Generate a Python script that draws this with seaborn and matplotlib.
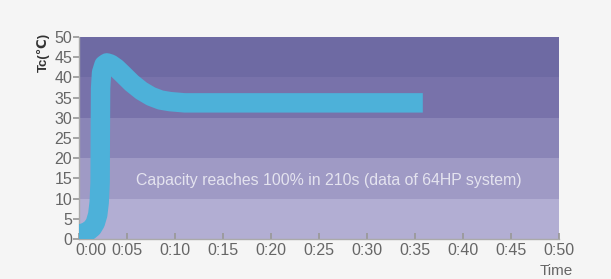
import matplotlib
matplotlib.use("Agg")
import matplotlib.pyplot as plt
import matplotlib.transforms as mtrans
import seaborn as sns
import pandas as pd

# ---- data ----
time_s = [0, 0.5, 1.0, 1.4, 1.7, 1.95, 2.1, 2.2, 2.22, 2.25, 2.35, 2.6, 2.9, 3.3, 3.9,
          4.6, 5.5, 6.5, 7.5, 8.5, 9.5, 11, 34.8]
tc_values = [1.2, 1.5, 2.0, 2.8, 4.0, 6.0, 9.0, 14.0, 25.0, 37.3, 41.2, 43.1, 43.6, 43.3, 42.3,
             40.7, 38.6, 36.7, 35.3, 34.4, 34.0, 33.7, 33.7]
x_ticks = [0, 5, 10, 15, 20, 25, 30, 35, 40, 45, 50]
x_tick_labels = ["0:00", "0:05", "0:10", "0:15", "0:20", "0:25", "0:30", "0:35", "0:40", "0:45", "0:50"]
y_ticks = [0, 5, 10, 15, 20, 25, 30, 35, 40, 45, 50]
band_edges = [0, 10, 20, 30, 40, 50]
band_colors = ["#b2aed3", "#9f9ac5", "#8a85b7", "#7872aa", "#6e6aa3"]
note = "Capacity reaches 100% in 210s (data of 64HP system)"

sns.set_theme(style="white")
plt.rcParams["font.family"] = ["Liberation Sans", "DejaVu Sans"]

bg = "#f5f5f5"
fig = plt.figure(figsize=(6.11, 2.79), dpi=100, facecolor=bg)
ax = fig.add_axes([79 / 611, 1 - 239 / 279, 480 / 611, 202 / 279])
ax.set_facecolor(bg)

for lo, hi, c in zip(band_edges[:-1], band_edges[1:], band_colors):
    ax.axhspan(lo, hi, color=c, lw=0, zorder=0)

df = pd.DataFrame({"t": time_s, "tc": tc_values})
sns.lineplot(data=df, x="t", y="tc", ax=ax, color="#4db1d9", lw=14,
             sort=False, estimator=None, zorder=3,
             solid_joinstyle="round", solid_capstyle="projecting")

ax.text(26.0, 14.6, note, color="#e4e3ef", fontsize=11.4, ha="center", va="center", zorder=4)

ax.set_xlim(0, 50)
ax.set_ylim(0, 50)
ax.set_xticks(x_ticks)
ax.set_xticklabels(x_tick_labels)
ax.set_yticks(y_ticks)
ax.tick_params(axis="x", direction="in", length=4, color="#999999", labelcolor="#666666",
               labelsize=11.5, pad=3, bottom=True)
ax.tick_params(axis="y", direction="out", length=4, color="#999999", labelcolor="#666666",
               labelsize=11.5, pad=1, left=True)
first = ax.get_xticklabels()[0]
first.set_horizontalalignment("left")
first.set_transform(first.get_transform() + mtrans.ScaledTranslation(-4 / 100, 0, fig.dpi_scale_trans))
for s in ["top", "right"]:
    ax.spines[s].set_visible(False)
for s in ["left", "bottom"]:
    ax.spines[s].set_color("#aaaaaa")
    ax.spines[s].set_linewidth(1)
ax.set_xlabel("")
ax.set_ylabel("")

fig.text(43 / 611, 1 - 52 / 279, "Tc(℃)", rotation=90, fontsize=9.5, fontweight="bold",
         color="#333333", ha="center", va="center")
fig.text(556 / 611, 1 - 271 / 279, "Time", fontsize=11, color="#666666", ha="center", va="center")

fig.savefig("out.png", dpi=100, facecolor=bg)
